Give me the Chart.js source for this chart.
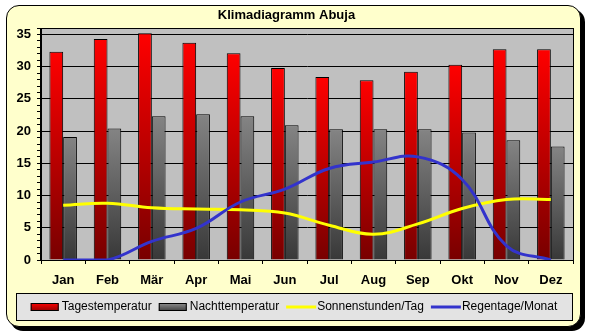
<!DOCTYPE html>
<html>
<head>
<meta charset="utf-8">
<script src="https://cdn.jsdelivr.net/npm/chart.js@4/dist/chart.umd.min.js"></script>
<style>
  body { margin: 0; background: #fff; }
  #wrap { position: relative; width: 589px; height: 336px; }
  #frame {
    position: absolute; left: 6px; top: 5px; width: 575px; height: 322px;
    box-sizing: border-box; border: 1px solid #000; border-radius: 13px;
    background: #ffffcc; box-shadow: 4px 4px 0 #000;
  }
  #chart { position: absolute; left: 0; top: 0; }
</style>
</head>
<body>
<div id="wrap">
  <div id="frame"></div>
  <canvas id="chart" width="589" height="336"></canvas>
</div>
<script>
// Klimadiagramm Abuja
const months = ['Jan', 'Feb', 'Mär', 'Apr', 'Mai', 'Jun', 'Jul', 'Aug', 'Sep', 'Okt', 'Nov', 'Dez'];
const tagesTemp = [32.3, 34.3, 35.2, 33.7, 32.1, 29.8, 28.4, 27.9, 29.2, 30.3, 32.7, 32.7];
const nachtTemp = [19.1, 20.4, 22.3, 22.6, 22.3, 20.9, 20.3, 20.3, 20.3, 19.8, 18.6, 17.6];
const sonnenstunden = [8.5, 8.8, 8.1, 7.9, 7.8, 7.3, 5.4, 4.0, 5.6, 8.0, 9.4, 9.4];
const regentage = [0, 0, 2.9, 4.9, 9.0, 11.0, 14.2, 15.2, 16.0, 12.5, 2.2, 0];
const yMax = 36;

// vertical gradient per bar, from the bar top down to zero
function barFill(topColor, bottomColor) {
  return (ctx) => {
    const chart = ctx.chart;
    if (!chart.chartArea || ctx.type !== 'data') return topColor;
    const y = chart.scales.y;
    const g = chart.ctx.createLinearGradient(0, y.getPixelForValue(ctx.raw), 0, y.getPixelForValue(0));
    g.addColorStop(0, topColor);
    g.addColorStop(1, bottomColor);
    return g;
  };
}

// grey plot area, its border and the boxed legend
const plotFrame = {
  id: 'plotFrame',
  beforeDraw(chart) {
    const { ctx, chartArea: a } = chart;
    ctx.save();
    ctx.fillStyle = '#c0c0c0';
    ctx.fillRect(a.left, a.top, a.right - a.left, a.bottom - a.top);
    ctx.restore();
  },
  afterDatasetsDraw(chart) {
    const { ctx, chartArea: a } = chart;
    ctx.save();
    ctx.strokeStyle = '#000';
    ctx.lineWidth = 1;
    ctx.strokeRect(Math.round(a.left) - 0.5, Math.round(a.top) + 0.5, Math.round(a.right - a.left) + 1, Math.round(a.bottom - a.top));
    ctx.restore();
  },
  afterDraw(chart) {
    const ctx = chart.ctx;
    const box = { x: 16, y: 293, w: 556, h: 27 };
    ctx.save();
    ctx.fillStyle = '#e3e3e3';
    ctx.fillRect(box.x, box.y, box.w, box.h);
    ctx.strokeStyle = '#000';
    ctx.lineWidth = 1;
    ctx.strokeRect(box.x + 0.5, box.y + 0.5, box.w, box.h);

    ctx.font = '12px "Liberation Sans", Arial, sans-serif';
    ctx.textBaseline = 'middle';
    const items = chart.data.datasets.map(ds => ({
      label: ds.label,
      isLine: ds.type === 'line',
      swatch: ds.legendSwatch,
      textW: ctx.measureText(ds.label).width
    }));
    const swW = 28, gap = 3, sep = 7;
    let total = 0;
    items.forEach((it, i) => { total += swW + gap + it.textW + (i < items.length - 1 ? sep : 0); });
    let x = box.x + (box.w - total) / 2;
    const cy = box.y + box.h / 2 + 0.5;
    items.forEach(it => {
      if (it.isLine) {
        ctx.strokeStyle = it.swatch[0];
        ctx.lineWidth = 3;
        ctx.beginPath();
        ctx.moveTo(x, cy);
        ctx.lineTo(x + swW + 2, cy);
        ctx.stroke();
      } else {
        const g = ctx.createLinearGradient(0, cy - 4, 0, cy + 4);
        g.addColorStop(0, it.swatch[0]);
        g.addColorStop(1, it.swatch[1]);
        ctx.fillStyle = g;
        ctx.fillRect(x, cy - 4, swW, 8);
        ctx.strokeStyle = '#000';
        ctx.lineWidth = 1;
        ctx.strokeRect(x + 0.5, cy - 3.5, swW - 1, 7);
      }
      x += swW + gap;
      ctx.fillStyle = '#000';
      ctx.fillText(it.label, x, cy);
      x += it.textW + sep;
    });
    ctx.restore();
  }
};

new Chart(document.getElementById('chart'), {
  type: 'bar',
  data: {
    labels: months,
    datasets: [
      {
        label: 'Tagestemperatur',
        data: tagesTemp,
        backgroundColor: barFill('#ff0000', '#780000'),
        legendSwatch: ['#ff0000', '#900000'],
        borderColor: '#000',
        borderWidth: 1,
        categoryPercentage: 0.62,
        barPercentage: 1.0,
        order: 2
      },
      {
        label: 'Nachttemperatur',
        data: nachtTemp,
        backgroundColor: barFill('#848484', '#383838'),
        legendSwatch: ['#909090', '#404040'],
        borderColor: '#000',
        borderWidth: 1,
        categoryPercentage: 0.62,
        barPercentage: 1.0,
        order: 3
      },
      {
        type: 'line',
        label: 'Sonnenstunden/Tag',
        data: sonnenstunden,
        borderColor: '#ffff00',
        legendSwatch: ['#ffff00'],
        borderWidth: 3,
        pointRadius: 0,
        tension: 0.4,
        order: 1
      },
      {
        type: 'line',
        label: 'Regentage/Monat',
        data: regentage,
        borderColor: '#3333cc',
        legendSwatch: ['#3333cc'],
        borderWidth: 3,
        pointRadius: 0,
        tension: 0.4,
        order: 0
      }
    ]
  },
  options: {
    responsive: false,
    animation: false,
    layout: { padding: { left: 0, right: 16, top: 0, bottom: 46 } },
    plugins: {
      legend: { display: false },
      tooltip: { enabled: false },
      title: {
        display: true,
        text: 'Klimadiagramm Abuja',
        color: '#000',
        font: { family: '"Liberation Sans", Arial, sans-serif', size: 13, weight: 'bold' },
        padding: { top: 8, bottom: 4.4 }
      }
    },
    scales: {
      x: {
        afterFit: (scale) => { scale.height = 30; },
        grid: { drawOnChartArea: false, drawTicks: true, tickLength: 4, tickColor: '#000', offset: true },
        border: { display: true, color: '#000' },
        ticks: {
          color: '#000',
          padding: 9,
          font: { family: '"Liberation Sans", Arial, sans-serif', size: 13, weight: 'bold' }
        }
      },
      y: {
        min: 0,
        max: yMax,
        afterFit: (scale) => { scale.width = 41; },
        grid: {
          color: (ctx) => (ctx.tick && ctx.tick.value % 5 === 0 && ctx.tick.value > 0) ? '#000' : 'rgba(0,0,0,0)',
          tickColor: '#000',
          tickLength: 4
        },
        border: { display: true, color: '#000' },
        ticks: {
          stepSize: 1,
          autoSkip: false,
          color: '#000',
          padding: 6,
          font: { family: '"Liberation Sans", Arial, sans-serif', size: 13, weight: 'bold' },
          callback: (v) => (v % 5 === 0 ? v : '')
        }
      }
    }
  },
  plugins: [plotFrame]
});
</script>
</body>
</html>
